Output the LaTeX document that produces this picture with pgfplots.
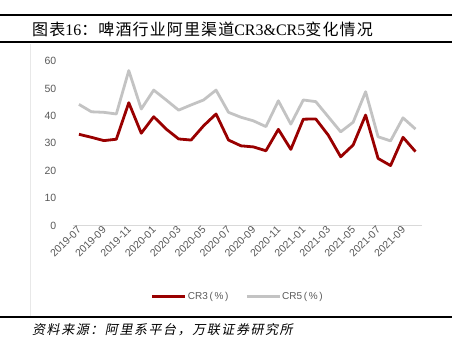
\documentclass[border=0pt]{standalone}
\usepackage{fontspec}
\usepackage{pgfplots}
\pgfplotsset{compat=1.18}
\setmainfont{Liberation Sans}
\newfontfamily\cjk{Noto Sans CJK SC}
\newfontfamily\cjkt{Noto Sans CJK SC}[LetterSpace=7]
\newfontfamily\cjkit{Noto Sans CJK SC}[FakeSlant=0.2,LetterSpace=12]
\newfontfamily\tnr{Liberation Serif}
\definecolor{cr3}{HTML}{990000}
\definecolor{cr5}{HTML}{C3C3C3}
\definecolor{txtgray}{HTML}{595959}
\definecolor{axgray}{HTML}{D9D9D9}
\pgfplotstableread{
x cr3 cr5
1 33.3 44.2
2 32.2 41.5
3 31.0 41.3
4 31.5 40.7
5 44.8 56.5
6 33.7 42.5
7 39.7 49.4
8 35.2 45.8
9 31.6 42.1
10 31.2 44.0
11 36.4 45.8
12 40.7 49.4
13 31.2 41.3
14 29.1 39.5
15 28.7 38.2
16 27.3 36.1
17 35.1 45.5
18 27.8 37.0
19 38.8 45.8
20 38.9 45.2
21 33.0 39.7
22 25.1 34.2
23 29.4 37.7
24 40.3 48.8
25 24.5 32.4
26 21.9 30.9
27 32.2 39.3
28 27.0 35.2
}\datatable
\begin{document}
\begin{tikzpicture}[x=1bp,y=1bp]
\path[use as bounding box] (0,0) rectangle (452,352);
% rules
\draw[line width=2bp] (0,337) -- (452,337);
\draw[line width=2.5bp] (0,310) -- (452,310);
\draw[line width=2.5bp] (0,35) -- (452,35);
\draw[axgray!60, line width=0.5bp] (30.5,36.5) -- (30.5,308.5);
\node[anchor=west, inner sep=0] at (32,322.5) {\fontsize{16bp}{19bp}\selectfont\cjkt 图表{\tnr 16}：啤酒行业阿里渠道{\tnr CR3\&CR5}变化情况};
\node[anchor=west, inner sep=0] at (32,22) {\fontsize{13bp}{15bp}\selectfont\cjkit 资料来源：阿里系平台，万联证券研究所};
\begin{axis}[
  at={(72.7bp,126.3bp)}, anchor=south west,
  scale only axis, width=349bp, height=164.7bp,
  xmin=0.5, xmax=28.5, ymin=0, ymax=60,
  axis x line*=bottom, axis y line*=left,
  x axis line style={axgray, line width=0.8bp, -},
  y axis line style={draw=none},
  xtick={1,3,...,27},
  xticklabels={2019-07,2019-09,2019-11,2020-01,2020-03,2020-05,2020-07,2020-09,2020-11,2021-01,2021-03,2021-05,2021-07,2021-09},
  ytick={0,10,...,60},
  major tick length=0pt,
  tick style={draw=none},
  /pgf/number format/assume math mode=true,
  ticklabel style={font=\fontsize{10.5bp}{12bp}\selectfont, text=txtgray},
  x tick label style={rotate=45, anchor=east, xshift=2bp, yshift=-2bp, font=\fontsize{10.5bp}{12bp}\selectfont},
  y tick label style={xshift=-13bp},
  legend style={at={(0.472,-0.431)}, anchor=center, draw=none, fill=none,
    legend columns=2, font=\fontsize{10bp}{12bp}\selectfont, text=txtgray,
    nodes={inner xsep=1bp},
    /tikz/every even column/.append style={column sep=16bp}},
  legend image code/.code={\draw[#1] (0bp,0bp) -- (33bp,0bp);},
]
\addplot[cr3, line width=2.8bp, line join=round] table[x=x,y=cr3] {\datatable};
\addlegendentry{CR3\,(\,\%\,)}
\addplot[cr5, line width=2.8bp, line join=round] table[x=x,y=cr5] {\datatable};
\addlegendentry{CR5\,(\,\%\,)}
\end{axis}
\end{tikzpicture}
\end{document}
